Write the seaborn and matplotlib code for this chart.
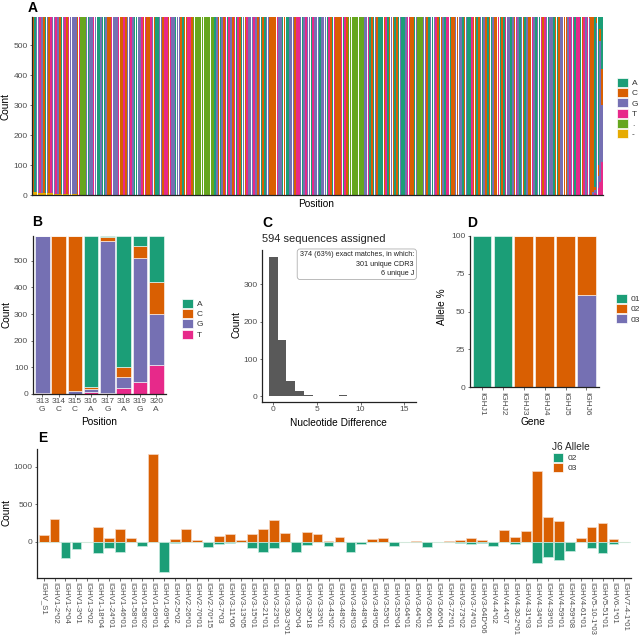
import pandas as pd
import matplotlib
matplotlib.use("Agg")
import matplotlib.pyplot as plt
import seaborn as sns
from matplotlib.patches import Patch

sns.set_theme(style="ticks")
plt.rcParams['font.family'] = ['Liberation Sans', 'DejaVu Sans']

W, H = 642, 640

# =========================
# DATA
# =========================
nt_levels = ["A", "C", "G", "T", ".", "-"]
nt_colors = ["#1B9E77", "#D95F02", "#7570B3", "#E7298A", "#66A61E", "#E6AB02"]
n_seqs = 594

# consensus per position (A panel), '.' = gap
consensus = ("CAGGTGCAGCTGGTGCAGTCTGGGGCT...GAGGTGAAGAAGCCTGGGTCCTCGGTGAAGGTCTCCTGCAAGGCTTCTGGAGGCACCTTC"
             "............AGCAGCTATGCTATCAGCTGGGTGCGACAGGCCCCTGGACAAGGGCTTGAGTGGATGGGAGGGATCATCCCTATC"
             ".........GGTACAGCAAACTACGCACAGAAGTTCCAG...GGCAGAGTCACGATTACCGCGGACGAATCCACGAGCACAGCCTAC"
             "ATGGAGCTGAGCAGCCTGAGATCTGAGGACACGGCCGTGTATTACTGTGCCAGAGA")
# '-' counts at the 5' end
dash_start = [10, 9, 9, 8, 8, 8, 7, 7, 7, 6, 6, 6, 5, 5, 5, 5, 4, 4, 4, 3, 3, 3, 2, 2, 2]

# last 8 positions (panel B)
tail_pos = [313, 314, 315, 316, 317, 318, 319, 320]
tail_ref = ["G", "C", "C", "A", "G", "A", "G", "A"]
tail_A = [0, 0, 2, 567, 4, 494, 39, 175]
tail_C = [3, 594, 581, 9, 16, 35, 43, 119]
tail_G = [589, 0, 11, 12, 572, 41, 468, 190]
tail_T = [2, 0, 0, 6, 2, 24, 44, 110]

# panel C
diff_values = [0, 1, 2, 3, 4, 5, 6, 8, 9, 14, 15]
diff_counts = [374, 151, 40, 15, 5, 1, 1, 4, 1, 1, 1]
c_title = "594 sequences assigned"
c_note = "374 (63%) exact matches, in which:\n301 unique CDR3\n6 unique J"

# panel D
j_genes = ["IGHJ1", "IGHJ2", "IGHJ3", "IGHJ4", "IGHJ5", "IGHJ6"]
pct_01 = [100, 100, 0, 0, 0, 0]
pct_02 = [0, 0, 100, 100, 100, 39]
pct_03 = [0, 0, 0, 0, 0, 61]
allele_levels = ["01", "02", "03"]

# panel E
v_genes = ["IGHV_S1", "IGHV1-2*02", "IGHV1-2*04", "IGHV1-3*01", "IGHV1-3*02", "IGHV1-18*04",
           "IGHV1-24*01", "IGHV1-46*01", "IGHV1-58*01", "IGHV1-58*02", "IGHV1-69*01", "IGHV1-69*04",
           "IGHV2-5*02", "IGHV2-26*01", "IGHV2-70*01", "IGHV2-70*15", "IGHV3-7*03", "IGHV3-11*06",
           "IGHV3-13*05", "IGHV3-15*01", "IGHV3-21*01", "IGHV3-23*01", "IGHV3-30-3*01", "IGHV3-30*04",
           "IGHV3-30*18", "IGHV3-33*01", "IGHV3-43*02", "IGHV3-48*02", "IGHV3-48*03", "IGHV3-48*04",
           "IGHV3-49*05", "IGHV3-53*01", "IGHV3-53*04", "IGHV3-64*01", "IGHV3-64*02", "IGHV3-66*01",
           "IGHV3-66*04", "IGHV3-72*01", "IGHV3-73*02", "IGHV3-74*01", "IGHV3-64D*06", "IGHV4-4*02",
           "IGHV4-4*07", "IGHV4-30-2*01", "IGHV4-31*03", "IGHV4-34*01", "IGHV4-39*01", "IGHV4-59*01",
           "IGHV4-59*08", "IGHV4-61*01", "IGHV5-10-1*03", "IGHV5-51*01", "IGHV6-1*01", "IGHV7-4-1*01"]
j6_03 = [90, 298, 0, 0, 3, 200, 49, 169, 53, 0, 1165, 0, 31, 164, 27, 0, 71, 102, 22, 98, 169, 289,
         111, 0, 133, 98, 15, 67, 0, 0, 40, 53, 0, 0, 4, 0, 0, 5, 22, 44, 22, 0, 155, 62, 142, 941,
         333, 280, 0, 49, 191, 244, 36, 0]
j6_02 = [0, 0, 222, 93, 0, 155, 80, 133, 0, 53, 0, 400, 13, 0, 0, 75, 27, 22, 9, 89, 142, 89,
         0, 133, 44, 0, 58, 0, 133, 31, 0, 0, 58, 5, 0, 75, 0, 0, 18, 31, 13, 62, 0, 36, 0, 280,
         209, 244, 124, 0, 89, 151, 27, 0]

# =========================
# long tables
# =========================
rows = []
for i, ref in enumerate(consensus, start=1):
    cnt = {nt: 0 for nt in nt_levels}
    if i in tail_pos:
        k = tail_pos.index(i)
        cnt.update(A=tail_A[k], C=tail_C[k], G=tail_G[k], T=tail_T[k])
    else:
        dash = dash_start[i - 1] if i <= len(dash_start) else 0
        cnt["-"] = dash
        cnt[ref] = n_seqs - dash
    for nt in nt_levels:
        rows.append((i, nt, cnt[nt]))
df_a = pd.DataFrame(rows, columns=["pos", "nt", "count"])
df_b = df_a[df_a["pos"] >= tail_pos[0]]

df_d = pd.DataFrame({
    "gene": j_genes * 3,
    "allele": ["01"] * 6 + ["02"] * 6 + ["03"] * 6,
    "pct": pct_01 + pct_02 + pct_03,
})

# =========================
# style helpers
# =========================
TICK = dict(labelsize=6, labelcolor="#4D4D4D", length=1.8, width=0.5, color="#333333", pad=1.3)
TITLE_SIZE = 7.3


def fx(x):
    return x / W


def fy(y):
    return 1 - y / H


def make_ax(x0, y0, x1, y1):
    ax = fig.add_axes([fx(x0), fy(y1), fx(x1) - fx(x0), (y1 - y0) / H])
    sns.despine(ax=ax)
    for s in ["left", "bottom"]:
        ax.spines[s].set_linewidth(0.9)
        ax.spines[s].set_color("#222222")
    ax.tick_params(**TICK)
    ax.set_xlabel("")
    ax.set_ylabel("")
    return ax


def add_legend(ax, labels, colors, x, ytop, title=None):
    handles = [Patch(facecolor=c, edgecolor="white", linewidth=0.5, label=l) for l, c in zip(labels, colors)]
    leg = ax.legend(handles=handles, loc="upper left", bbox_to_anchor=(fx(x), fy(ytop)),
                    bbox_transform=fig.transFigure, frameon=False, fontsize=6,
                    handlelength=1.3, handleheight=1.3, labelspacing=0.12, handletextpad=0.5,
                    borderpad=0, borderaxespad=0, title=title, alignment="left",
                    title_fontproperties={"size": TITLE_SIZE})
    for t in leg.get_texts():
        t.set_color("#333333")
    return leg


def label(x, y, s, **kw):
    fig.text(fx(x), fy(y), s, ha="center", va="center", color="black", **kw)


fig = plt.figure(figsize=(W / 100, H / 100), dpi=100)

# =========================
# A
# =========================
axA = make_ax(32, 16.8, 603, 195)
sns.histplot(data=df_a, x="pos", weights="count", hue="nt", hue_order=nt_levels, palette=nt_colors,
             multiple="stack", discrete=True, shrink=0.85, linewidth=0, legend=False, ax=axA, alpha=1)
axA.set_xlim(0.4, len(consensus) + 0.6)
axA.set_ylim(0, n_seqs)
axA.set_xticks([])
axA.set_yticks([0, 100, 200, 300, 400, 500])
axA.set_xlabel("")
axA.set_ylabel("")
add_legend(axA, nt_levels, nt_colors, 617, 77.5)
label(33, 8.5, "A", fontsize=10, weight="bold")
label(6, 106, "Count", fontsize=TITLE_SIZE, rotation=90)
label(316, 204, "Position", fontsize=TITLE_SIZE)

# =========================
# B
# =========================
axB = make_ax(32.5, 235.7, 166, 394)
sns.histplot(data=df_b, x="pos", weights="count", hue="nt", hue_order=nt_levels[:4], palette=nt_colors[:4],
             multiple="stack", discrete=True, shrink=0.9, edgecolor="white", linewidth=0.4,
             legend=False, ax=axB, alpha=1)
axB.set_xlim(tail_pos[0] - 0.6, tail_pos[-1] + 0.6)
axB.set_ylim(0, n_seqs)
axB.set_xticks(tail_pos)
axB.set_xticklabels([f"{p}\n{r}" for p, r in zip(tail_pos, tail_ref)], linespacing=1.1)
axB.set_yticks([0, 100, 200, 300, 400, 500])
axB.set_xlabel("")
axB.set_ylabel("")
add_legend(axB, nt_levels[:4], nt_colors[:4], 181.7, 298.5)
label(37, 221.5, "B", fontsize=10, weight="bold")
label(7, 315, "Count", fontsize=TITLE_SIZE, rotation=90)
label(99, 422, "Position", fontsize=TITLE_SIZE)

# =========================
# C
# =========================
axC = make_ax(262, 249.6, 415.5, 402)
sns.histplot(x=diff_values, weights=diff_counts, discrete=True, shrink=1, color="#595959",
             linewidth=0, alpha=1, ax=axC)
axC.set_xlim(-1.3, 16.3)
axC.set_ylim(-15, 392.7)
axC.set_xticks([0, 5, 10, 15])
axC.set_yticks([0, 100, 200, 300])
axC.set_xlabel("")
axC.set_ylabel("")
fig.text(fx(414), fy(251.5), c_note, ha="right", va="top", fontsize=5.2, color="#222222",
         linespacing=1.45, multialignment="right",
         bbox=dict(boxstyle="round,pad=0.35,rounding_size=0.4", facecolor="white",
                   edgecolor="#b0b0b0", linewidth=0.6))
fig.text(fx(261.5), fy(239.3), c_title, ha="left", va="center", fontsize=8, color="#222222")
label(267.5, 223.3, "C", fontsize=10, weight="bold")
label(237, 325, "Count", fontsize=TITLE_SIZE, rotation=90)
label(338.5, 422.5, "Nucleotide Difference", fontsize=TITLE_SIZE)

# =========================
# D
# =========================
axD = make_ax(469.5, 235.7, 599, 387.3)
sns.histplot(data=df_d, x="gene", weights="pct", hue="allele", hue_order=allele_levels,
             palette=nt_colors[:3], multiple="stack", discrete=True, shrink=0.9,
             edgecolor="white", linewidth=0.4, legend=False, ax=axD, alpha=1)
axD.set_xlim(-0.6, len(j_genes) - 0.4)
axD.set_ylim(0, 100)
axD.set_yticks([0, 25, 50, 75, 100])
axD.set_xticks(range(len(j_genes)))
axD.set_xticklabels(j_genes, rotation=270, ha="center", va="top")
axD.set_xlabel("")
axD.set_ylabel("")
add_legend(axD, allele_levels, nt_colors[:3], 616, 293.5)
label(472, 223, "D", fontsize=10, weight="bold")
label(442, 306.5, "Allele %", fontsize=TITLE_SIZE, rotation=90)
label(533, 422, "Gene", fontsize=TITLE_SIZE)

# =========================
# E
# =========================
axE = make_ax(37, 448.5, 631, 577.6)
axE.axhline(0, color="#d8eee8", linewidth=0.8, zorder=0)
sns.barplot(x=v_genes, y=j6_03, color=nt_colors[1], saturation=1, width=0.9, errorbar=None,
            edgecolor="#f6d9c4", linewidth=0.5, ax=axE)
sns.barplot(x=v_genes, y=[-v for v in j6_02], color=nt_colors[0], saturation=1, width=0.9,
            errorbar=None, edgecolor="#c9ece2", linewidth=0.5, ax=axE)
axE.set_xlim(-0.6, len(v_genes) - 0.4)
axE.set_ylim(-478, 1243)
axE.set_yticks([0, 500, 1000])
axE.set_xticks(range(len(v_genes)))
axE.set_xticklabels(v_genes, rotation=270, ha="center", va="top", fontsize=5.6)
axE.set_xlabel("")
axE.set_ylabel("")
add_legend(axE, ["02", "03"], [nt_colors[0], nt_colors[1]], 552.5, 441.5, title="J6 Allele")
label(43, 437.5, "E", fontsize=10, weight="bold")
label(7, 513, "Count", fontsize=TITLE_SIZE, rotation=90)

fig.savefig("out.png", dpi=100)
